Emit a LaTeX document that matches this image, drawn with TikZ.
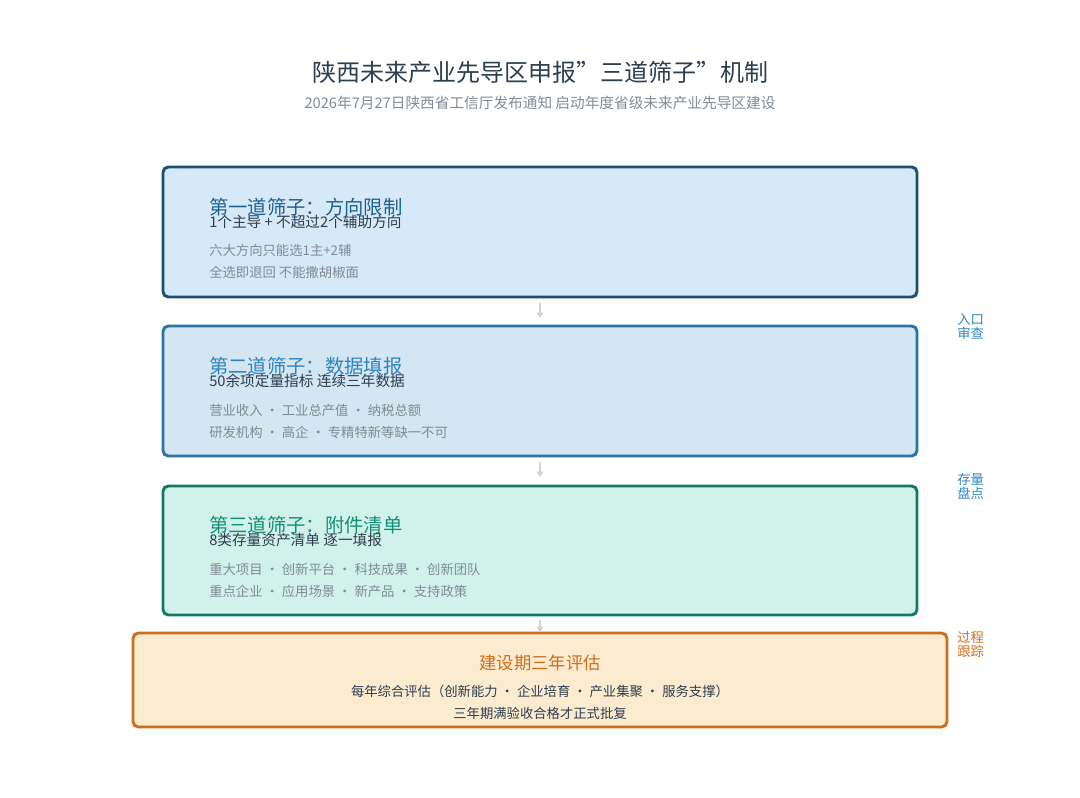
\documentclass[tikz,border=0pt]{standalone}
\usepackage{fontspec}
\setmainfont{Noto Sans CJK SC}
\usetikzlibrary{arrows.meta}
\definecolor{tc}{HTML}{2C3E50}
\definecolor{gr}{HTML}{808B96}
\definecolor{b1f}{HTML}{D6E9F8}\definecolor{b1d}{HTML}{1B4F72}\definecolor{b1h}{HTML}{1F618D}
\definecolor{b2f}{HTML}{D4E6F1}\definecolor{b2d}{HTML}{2874A6}\definecolor{b2h}{HTML}{2E86C1}
\definecolor{b3f}{HTML}{D1F2EB}\definecolor{b3d}{HTML}{117A65}\definecolor{b3h}{HTML}{148F77}
\definecolor{b4f}{HTML}{FDEBD0}\definecolor{b4d}{HTML}{CA6F1E}\definecolor{b4h}{HTML}{D35400}
\begin{document}
\begin{tikzpicture}[x=0.75pt,y=-0.75pt,
 box/.style={draw, line width=2.2pt, rounded corners=4pt},
 hd/.style={anchor=west, font=\fontsize{14.5}{16}\selectfont, inner sep=0},
 sub/.style={anchor=west, font=\fontsize{11}{13}\selectfont, text=tc, inner sep=0},
 gl/.style={anchor=west, font=\fontsize{10}{12}\selectfont, text=gr, inner sep=0},
 side/.style={anchor=west, font=\fontsize{10}{10.5}\selectfont, align=left, inner sep=0},
 arr/.style={-{Triangle[width=5pt,length=4pt]}, line width=1.8pt, draw=gray!35}]
\useasboundingbox (0,0) rectangle (1080,798);
\node[font=\fontsize{18}{20}\selectfont, text=tc] (t) at (540,72) {陕西未来产业先导区申报"三道筛子"机制};
\node[font=\fontsize{11}{13}\selectfont, text=gr] (st) at (540,103) {2026年7月27日陕西省工信厅发布通知 启动年度省级未来产业先导区建设};
\draw[box, draw=b1d, fill=b1f] (163,167) rectangle (917,297) coordinate (c1);
\node (n1) at (540,232) {};
\node[hd, text=b1h] at (209,207) {第一道筛子：方向限制};
\node[sub] at (209,222) {1个主导 + 不超过2个辅助方向};
\node[gl] at (209,250) {六大方向只能选1主+2辅};
\node[gl] at (209,272) {全选即退回 不能撒胡椒面};
\draw[box, draw=b2d, fill=b2f] (163,326) rectangle (917,456);
\node[hd, text=b2h] at (209,366) {第二道筛子：数据填报};
\node[sub] at (209,381) {50余项定量指标 连续三年数据};
\node[gl] at (209,410) {营业收入 · 工业总产值 · 纳税总额};
\node[gl] at (209,432) {研发机构 · 高企 · 专精特新等缺一不可};
\draw[box, draw=b3d, fill=b3f] (163,486) rectangle (917,615);
\node[hd, text=b3h] at (209,525) {第三道筛子：附件清单};
\node[sub] at (209,540) {8类存量资产清单 逐一填报};
\node[gl] at (209,569) {重大项目 · 创新平台 · 科技成果 · 创新团队};
\node[gl] at (209,591) {重点企业 · 应用场景 · 新产品 · 支持政策};
\draw[box, draw=b4d, fill=b4f] (133,633) rectangle (947,727);
\node[font=\fontsize{13}{15}\selectfont, text=b4d] at (540,663) {建设期三年评估};
\node[font=\fontsize{10}{12}\selectfont, text=tc] at (540,691) {每年综合评估（创新能力 · 企业培育 · 产业集聚 · 服务支撑）};
\node[font=\fontsize{10}{12}\selectfont, text=tc] at (540,713) {三年期满验收合格才正式批复};
\coordinate (a1) at (540,303); \coordinate (a2) at (540,318);
\coordinate (b1) at (540,462); \coordinate (b2) at (540,477);
\coordinate (d1) at (540,620); \coordinate (d2) at (540,632);
\draw[arr] (a1) -- (a2); \draw[arr] (b1) -- (b2); \draw[arr] (d1) -- (d2);
\node[side, text=b2h] (s1) at (957,327) {入口\\审查};
\node[side, text=b2h] (s2) at (957,486) {存量\\盘点};
\node[side, text=b4d] (s3) at (957,644) {过程\\跟踪};
\end{tikzpicture}
\end{document}
